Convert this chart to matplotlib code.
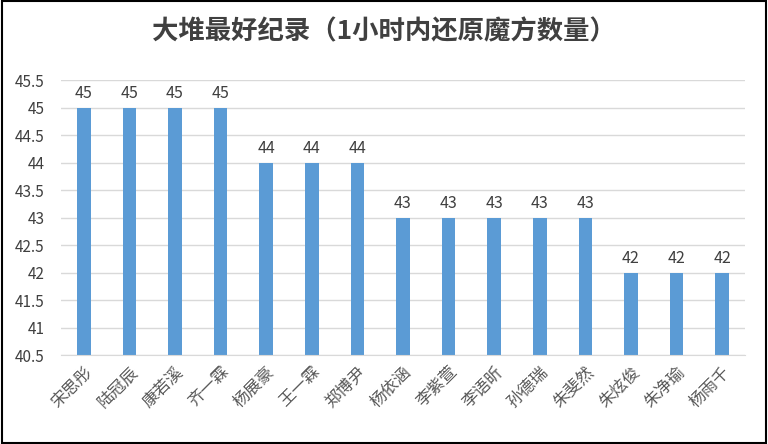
import matplotlib.pyplot as plt
from matplotlib.patches import Rectangle

plt.rcParams['font.family'] = ['Noto Sans CJK SC', 'DejaVu Sans']

names = ["宋思彤", "陆冠辰", "康若溪", "齐一霖", "杨展豪", "王一霖", "郑博尹", "杨依涵",
         "李紫萱", "李语昕", "孙德瑞", "朱斐然", "朱炫俊", "朱净瑜", "杨雨千"]
scores = [45, 45, 45, 45, 44, 44, 44, 43, 43, 43, 43, 43, 42, 42, 42]
yticks = [40.5, 41, 41.5, 42, 42.5, 43, 43.5, 44, 44.5, 45, 45.5]

fig = plt.figure(figsize=(7.68, 4.44), dpi=100)
ax = fig.add_axes([61 / 768, 1 - 355 / 444, 684 / 768, 275 / 444])
x = range(len(names))
ax.bar(x, scores, width=0.3, color="#5B9BD5", zorder=2)
for i, v in zip(x, scores):
    ax.text(i, v + 0.1, str(v), ha="center", va="bottom", fontsize=11.5, color="#404040")

ax.set_ylim(40.5, 45.5)
ax.set_xlim(-0.5, len(names) - 0.5)
ax.set_yticks(yticks)
ax.set_yticklabels([f"{t:g}" for t in yticks], fontsize=11, color="#404040")
ax.set_xticks(list(x))
ax.set_xticklabels(names, rotation=45, ha="right", rotation_mode="anchor",
                   fontsize=12, color="#595959")
ax.grid(axis="y", color="#D9D9D9", linewidth=1, zorder=0)
for s in ["top", "right", "left"]:
    ax.spines[s].set_visible(False)
ax.spines["bottom"].set_color("#D9D9D9")
ax.tick_params(axis="x", length=0, pad=6)
ax.tick_params(axis="y", length=0, pad=12)

fig.text(0.5, 1 - 32 / 444, "大堆最好纪录（1小时内还原魔方数量）", ha="center", va="center",
         fontsize=19, fontweight="bold", color="#404040")
fig.patches.append(Rectangle((0.002, 0.003), 0.996, 0.994, transform=fig.transFigure,
                             fill=False, edgecolor="black", linewidth=1.5))
fig.savefig("out.png", dpi=100)
